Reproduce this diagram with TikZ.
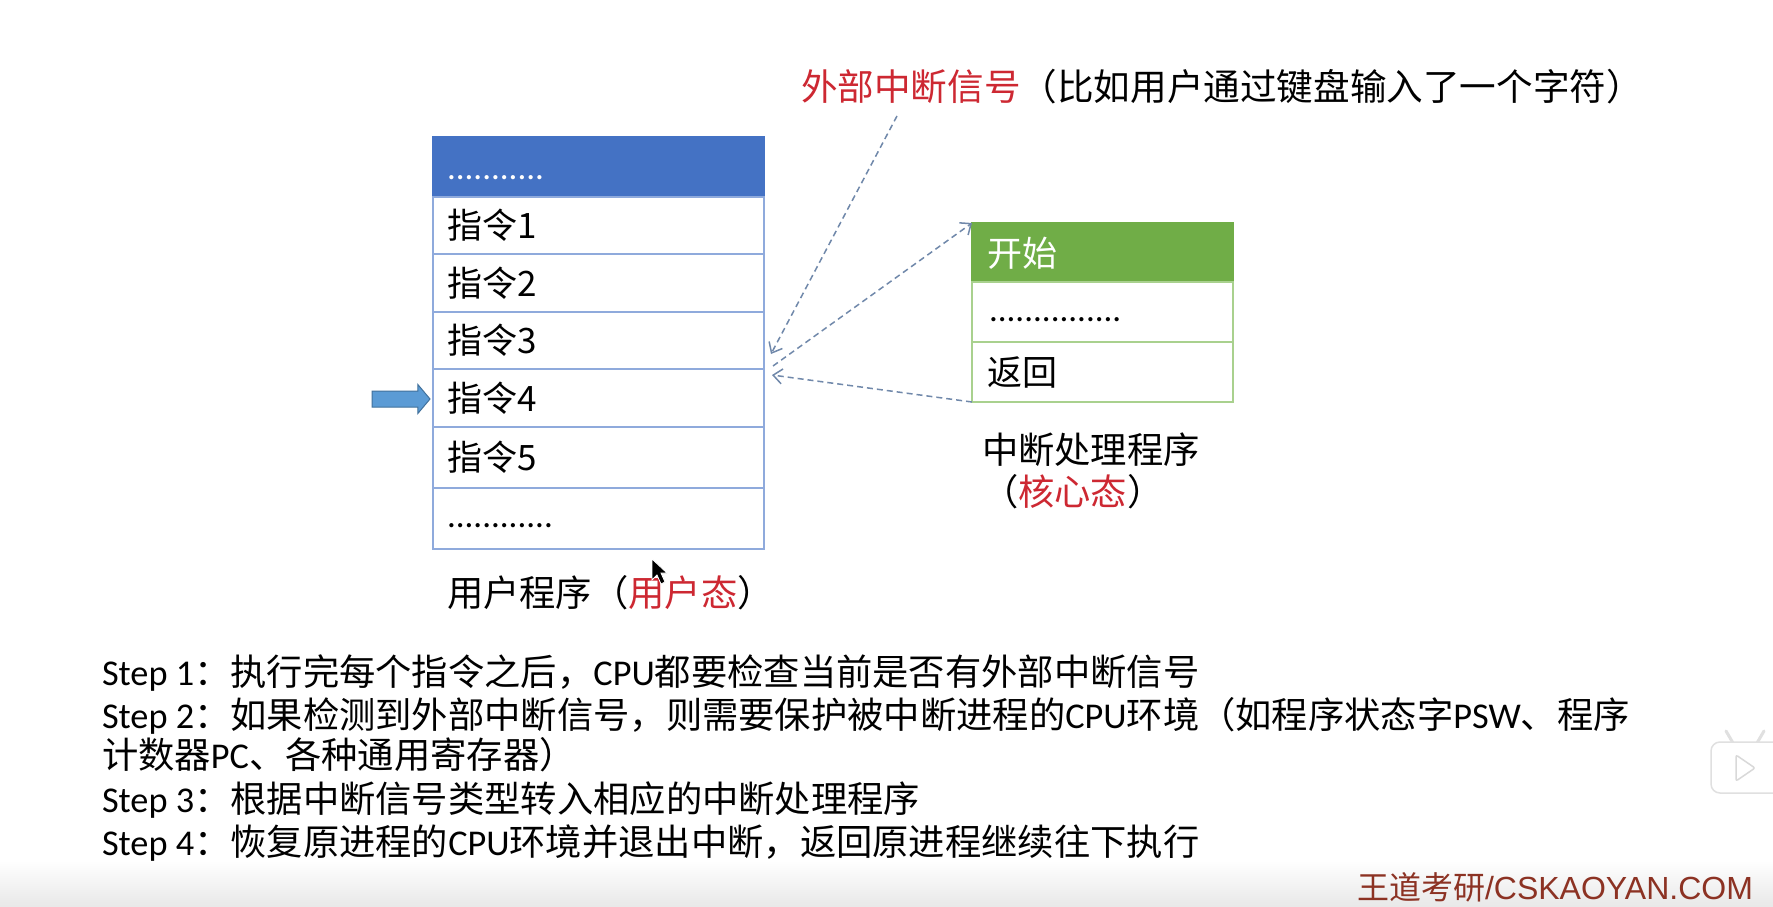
\documentclass[tikz,border=0pt]{standalone}
\usepackage{fontspec}
\setmainfont{Carlito}
\newfontfamily\cjk{Noto Sans CJK SC}
\newfontfamily\arl{Liberation Sans}
\usetikzlibrary{arrows.meta,shapes.arrows}
\definecolor{hdrblue}{HTML}{4472C4}
\definecolor{rowblue}{HTML}{8FAADC}
\definecolor{hdrgreen}{HTML}{70AD47}
\definecolor{rowgreen}{HTML}{A9D18E}
\definecolor{redtxt}{RGB}{205,40,50}
\definecolor{dashc}{RGB}{112,136,170}
\definecolor{pcblue}{HTML}{5B9BD5}
\definecolor{pcdark}{HTML}{41719C}
\definecolor{wmred}{RGB}{140,50,35}
\newcommand\zh[1]{{\cjk #1}}
\begin{document}
\begin{tikzpicture}[x=1pt,y=-1pt,
  every node/.style={inner sep=0pt, outer sep=0pt},
  txt/.style={anchor=base west, font=\fontsize{35}{42}\selectfont},
  steptxt/.style={anchor=base west, font=\fontsize{36.3}{42}\selectfont},
  urow/.style={draw=rowblue, line width=1.5pt, fill=white, minimum width=331pt},
  krow/.style={draw=rowgreen, line width=1.5pt, fill=white, minimum width=261pt},
  sigline/.style={draw=dashc, line width=1.5pt, dash pattern=on 6pt off 4pt, -{Straight Barb[length=9pt,width=15pt]}},
]
\useasboundingbox (0,0) rectangle (1773,907);
\fill[white] (0,0) rectangle (1773,907);
\shade[top color=white, bottom color=black!9] (0,860) rectangle (1773,907);

% user program stack
\node[urow, fill=hdrblue, draw=hdrblue, minimum height=60pt] (r0) at (598.5,167) {};
\node[urow, minimum height=57pt] (r1) at (598.5,225.5) {};
\node[urow, minimum height=58pt] (r2) at (598.5,283) {};
\node[urow, minimum height=57pt] (r3) at (598.5,340.5) {};
\node[urow, minimum height=58pt] (r4) at (598.5,398) {};
\node[urow, minimum height=61pt] (r5) at (598.5,457.5) {};
\node[urow, minimum height=61pt] (r6) at (598.5,518.5) {};
\node[txt, text=white] (t0) at (447,179) {...........};
\node[txt] (t1) at (447,238) {\zh{指令1}};
\node[txt] (t2) at (447,296) {\zh{指令2}};
\node[txt] (t3) at (447,353) {\zh{指令3}};
\node[txt] (t4) at (447,411) {\zh{指令4}};
\node[txt] (t5) at (447,470) {\zh{指令5}};
\node[txt] (t6) at (447,527) {............};
\node[steptxt] (ulabel) at (447,606) {\zh{用户程序（\textcolor{redtxt}{用户态}）}};

% PC arrow
\node[single arrow, fill=pcblue, draw=pcdark, line width=1pt, inner xsep=0pt, inner ysep=7.5pt, minimum height=58pt, minimum width=28pt, single arrow head extend=6.5pt, single arrow tip angle=100, anchor=tip] (pc) at (430,399) {};

% handler
\node[krow, fill=hdrgreen, draw=hdrgreen, minimum height=59pt] (h0) at (1102.5,252.5) {};
\node[krow, minimum height=60pt] (h1) at (1102.5,312) {};
\node[krow, minimum height=60pt] (h2) at (1102.5,372) {};
\node[txt, text=white] (k0) at (987,266) {\zh{开始}};
\node[txt] (k1) at (989,321) {...............};
\node[txt] (k2) at (987,385) {\zh{返回}};
\node[steptxt] (klabel) at (982,463) {\zh{中断处理程序}};
\node[steptxt] (klabel2) at (982,505) {\zh{（\textcolor{redtxt}{核心态}）}};

% title
\node[anchor=base west, font=\fontsize{36.6}{42}\selectfont] (title) at (801,100) {\zh{\textcolor{redtxt}{外部中断信号}（比如用户通过键盘输入了一个字符）}};

% dashed arrows
\coordinate (sigtop) at (897,116);
\coordinate (inA) at (771,354);
\coordinate (outB) at (773,366);
\coordinate (inC) at (772,375);
\draw[sigline] (sigtop) -- (inA);
\draw[sigline] (outB) -- (h0.north west);
\draw[sigline] (h2.south west) -- (inC);

% steps
\node[steptxt] (s1) at (102,685) {Step 1\zh{：执行完每个指令之后，}CPU\zh{都要检查当前是否有外部中断信号}};
\node[steptxt] (s2) at (102,728) {Step 2\zh{：如果检测到外部中断信号，则需要保护被中断进程的}CPU\zh{环境（如程序状态字}PSW\zh{、程序}};
\node[steptxt] (s2b) at (102,768) {\zh{计数器}PC\zh{、各种通用寄存器）}};
\node[steptxt] (s3) at (102,812) {Step 3\zh{：根据中断信号类型转入相应的中断处理程序}};
\node[steptxt] (s4) at (102,855) {Step 4\zh{：恢复原进程的}CPU\zh{环境并退出中断，返回原进程继续往下执行}};

% watermark
\node[anchor=base west, font=\fontsize{32}{38}\selectfont, text=wmred] (wm) at (1357,899) {\zh{王道考研}{\arl /CSKAOYAN.COM}};

% mouse cursor
\fill[black, draw=white, line width=0.8pt] (652,559) -- (652,580) -- (657,575) -- (661,584) -- (665,582) -- (661,573) -- (667,573) -- cycle;

% faint player icon
\draw[black!12, line width=3pt, line cap=round] (1733,743) -- (1726,731) (1757,743) -- (1764,731);
\draw[black!12, fill=white, line width=1.5pt, rounded corners=9pt] (1711,742) rectangle (1785,793);
\draw[black!15, fill=white, line width=1.5pt, rounded corners=2pt] (1736,755) -- (1736,781) -- (1755,768) -- cycle;
\end{tikzpicture}
\end{document}
